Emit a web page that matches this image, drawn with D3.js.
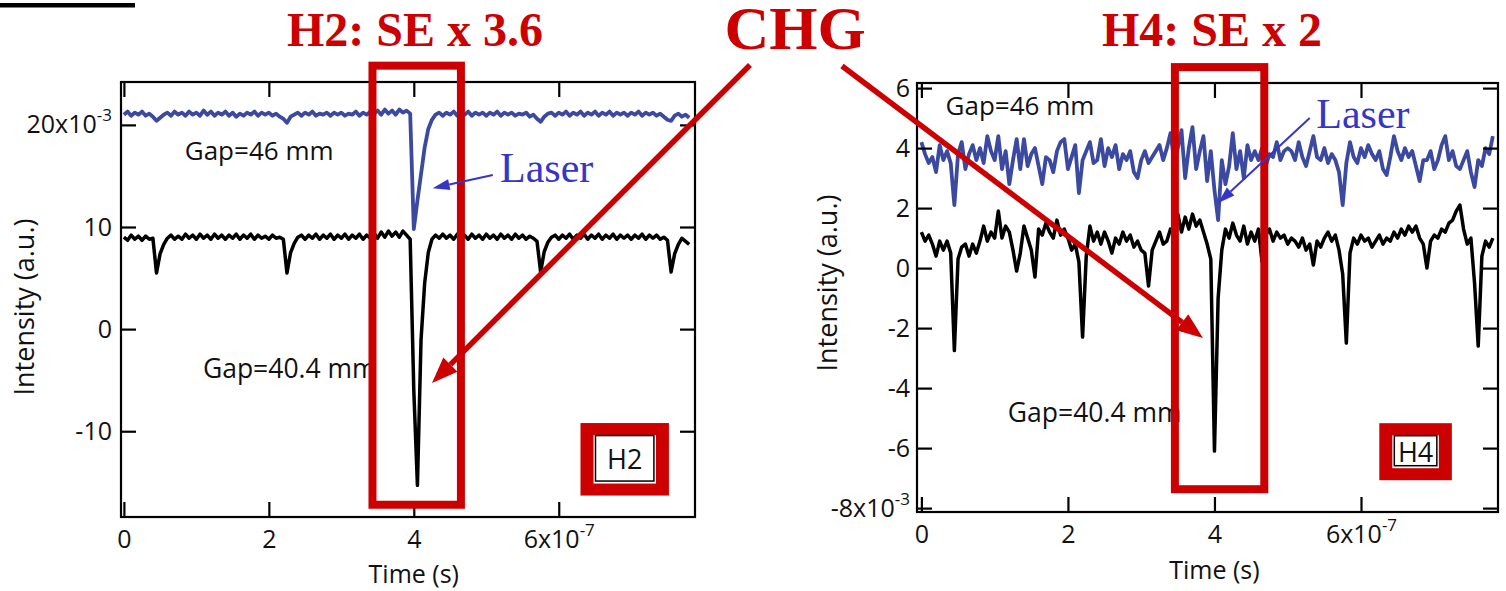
<!DOCTYPE html>
<html>
<head>
<meta charset="utf-8">
<script src="https://cdn.jsdelivr.net/npm/d3@7"></script>
<style>
  body { margin: 0; background: #fff; }
  svg text { font-family: "Open Sans", "Noto Sans", sans-serif; }
  .serif { font-family: "Liberation Serif", "Times New Roman", serif !important; }
</style>
</head>
<body>
<svg id="fig" width="1506" height="591"></svg>
<script>
// time sampling of every trace, in units of 1e-7 s
const timeStep = 0.05;

// H2 panel, intensity in units of 1e-3
const h2Laser = [
  21.0, 21.3, 20.9, 21.2, 21.0, 21.3, 20.9, 21.1, 20.8, 20.4,
  20.7, 21.0, 21.2, 20.9, 21.3, 21.0, 21.2, 20.9, 21.3, 21.0,
  21.2, 20.9, 21.4, 21.0, 21.3, 20.9, 21.2, 21.0, 21.3, 20.9,
  21.2, 20.8, 21.1, 20.9, 21.2, 21.0, 21.3, 20.9, 21.2, 21.0,
  21.2, 20.9, 21.1, 20.8, 20.6, 20.2, 20.8, 21.0, 21.2, 20.9,
  21.2, 21.0, 21.3, 20.9, 21.1, 21.0, 21.2, 20.9, 21.2, 21.0,
  21.2, 20.9, 21.1, 21.0, 21.3, 20.9, 21.2, 21.0, 21.3, 21.1,
  21.4, 21.0, 21.5, 21.1, 21.4, 21.0, 21.5, 21.2, 21.4, 21.1,
  9.8, 12.6, 15.2, 17.8, 19.6, 20.5, 21.0, 21.2, 20.9, 21.2,
  21.0, 21.3, 20.9, 21.2, 21.0, 21.3, 20.9, 21.2, 21.0, 21.2,
  20.9, 21.2, 21.0, 21.3, 20.9, 21.2, 21.0, 21.2, 20.9, 21.1,
  21.0, 21.2, 20.8, 21.0, 20.6, 20.3, 20.8, 21.1, 21.2, 20.9,
  21.2, 21.0, 21.3, 20.9, 21.2, 21.0, 21.3, 20.9, 21.2, 21.0,
  21.3, 20.9, 21.2, 21.0, 21.3, 20.9, 21.2, 21.0, 21.2, 20.9,
  21.2, 21.0, 21.3, 20.9, 21.2, 21.0, 21.2, 20.9, 21.1, 20.8,
  20.5, 20.4, 20.9, 21.1, 20.8, 21.0, 20.7
];
const h2Chg = [
  9.0, 8.7, 9.2, 8.8, 9.1, 8.7, 9.1, 8.8, 8.9, 5.5,
  7.4, 8.3, 8.9, 9.2, 8.8, 9.1, 8.8, 9.3, 8.9, 9.2,
  8.8, 9.3, 8.9, 9.2, 8.8, 9.3, 8.9, 9.2, 8.8, 9.2,
  8.9, 9.3, 8.8, 9.2, 8.9, 9.3, 8.8, 9.2, 8.9, 9.1,
  8.8, 9.2, 8.9, 9.0, 8.8, 5.5, 7.5, 8.4, 9.0, 9.2,
  8.8, 9.2, 8.9, 9.3, 8.8, 9.2, 8.9, 9.3, 8.8, 9.2,
  8.9, 9.3, 8.8, 9.2, 8.9, 9.3, 8.8, 9.2, 8.9, 9.4,
  8.9, 9.5, 9.0, 9.6, 9.1, 9.5, 9.0, 9.6, 9.2, 8.8,
  -6.0, -15.3, -1.0, 4.5, 7.5, 8.8, 9.2, 8.9, 9.3, 8.9,
  9.2, 8.8, 9.3, 8.9, 9.2, 8.8, 9.3, 8.9, 9.2, 8.8,
  9.3, 8.9, 9.2, 8.8, 9.3, 8.9, 9.2, 8.8, 9.3, 8.9,
  9.2, 8.8, 9.1, 8.9, 8.6, 5.6, 7.6, 8.5, 9.0, 9.2,
  8.8, 9.2, 8.9, 9.3, 8.8, 9.2, 8.9, 9.3, 8.8, 9.2,
  8.9, 9.3, 8.8, 9.2, 8.9, 9.3, 8.8, 9.2, 8.9, 9.2,
  8.8, 9.2, 8.9, 9.3, 8.8, 9.2, 8.9, 9.2, 8.8, 9.0,
  8.7, 5.6, 7.4, 8.3, 8.9, 8.6, 8.3
];

// H4 panel, intensity in units of 1e-3
const h4Laser = [
  4.2, 3.8, 3.5, 3.7, 3.2, 4.1, 3.6, 3.9, 3.5, 2.1,
  3.8, 4.2, 3.3, 3.8, 4.1, 3.6, 4.0, 3.5, 4.4, 3.9,
  3.6, 4.4, 3.3, 3.9, 2.8, 3.6, 4.3, 3.3, 4.3, 3.4,
  3.8, 4.0, 3.4, 2.8, 3.7, 3.6, 3.2, 3.9, 4.2, 4.3,
  3.3, 3.7, 4.1, 2.5, 3.6, 3.9, 4.2, 3.5, 3.6, 4.3,
  3.4, 4.0, 3.7, 4.1, 3.3, 3.8, 3.6, 3.9, 3.2, 3.0,
  3.6, 3.9, 3.5, 3.7, 3.9, 4.1, 3.6, 4.0, 4.5, 3.6,
  4.0, 4.6, 3.0, 4.0, 4.7, 3.3, 3.9, 4.4, 2.9, 3.9,
  2.6, 1.6, 3.6, 2.8, 3.4, 4.5, 3.3, 3.9, 3.0, 4.1,
  3.6, 3.9, 3.6, 4.0, 3.4, 3.8, 3.7, 4.2, 3.6, 3.9,
  4.0, 3.9, 3.6, 4.2, 3.7, 3.4, 3.9, 4.4, 3.7, 3.6,
  4.0, 3.5, 3.8, 3.6, 3.2, 2.1, 3.5, 4.2, 3.7, 3.5,
  4.0, 3.7, 4.1, 3.8, 3.6, 3.9, 3.3, 3.1, 3.7, 4.4,
  3.9, 3.6, 4.0, 3.7, 3.9, 3.4, 2.9, 3.6, 3.6, 3.9,
  3.3, 3.6, 4.1, 4.4, 3.6, 3.9, 3.4, 3.3, 3.6, 3.9,
  3.2, 2.7, 3.6, 3.4, 4.0, 3.8, 4.4
];
const h4Chg = [
  1.2, 0.9, 1.1, 0.8, 0.4, 0.9, 0.6, 0.9, 0.5, -2.75,
  0.3, 0.7, 0.8, 0.4, 0.8, 0.5, 0.9, 1.4, 0.9, 1.2,
  1.0, 1.9, 1.0, 1.4, 1.2, 0.6, -0.1, 0.5, 1.4, 1.0,
  0.6, -0.3, 1.3, 1.1, 1.5, 1.2, 1.0, 1.6, 1.1, 1.3,
  1.0, 0.6, 0.8, 0.2, -2.3, 0.4, 1.4, 0.9, 1.2, 0.8,
  1.2, 0.9, 0.5, 1.0, 0.8, 1.2, 0.9, 1.1, 0.7, 0.9,
  0.6, 0.5, -0.6, 0.6, 0.9, 1.2, 0.8, 0.9, 1.3, 1.1,
  1.8, 1.2, 1.7, 1.3, 1.8, 1.4, 1.6, 1.2, 0.8, 0.3,
  -6.1, -1.0, 0.6, 1.3, 1.0, 1.5, 1.1, 0.9, 1.4, 0.8,
  1.2, 0.9, 1.3, 0.2, 1.1, 1.3, 0.9, 1.2, 1.0, 1.1,
  0.8, 1.0, 0.9, 0.7, 1.0, 0.6, 0.8, 0.1, 0.9, 0.7,
  1.0, 1.2, 0.9, 1.1, 0.6, -0.2, -2.5, 0.5, 1.0, 0.8,
  1.1, 0.9, 1.0, 0.7, 0.9, 1.1, 0.8, 1.0, 0.9, 1.2,
  1.0, 1.3, 1.1, 1.4, 1.2, 1.4, 1.0, 0.8, 0.0, 0.9,
  1.1, 1.0, 1.3, 1.2, 1.5, 1.6, 1.9, 2.1, 1.3, 0.8,
  1.0, -0.5, -2.6, 0.4, 0.9, 0.7, 1.0
];

const xTicks = [0, 2, 4, 6];
const xTickLabels = ['0', '2', '4', '6x10^-7'];
const h2YTicks = [-10, 0, 10, 20];
const h2YTickLabels = ['-10', '0', '10', '20x10^-3'];
const h4YTicks = [-8, -6, -4, -2, 0, 2, 4, 6];
const h4YTickLabels = ['-8x10^-3', '-6', '-4', '-2', '0', '2', '4', '6'];

const RED = '#cc0000';
const TRACE_BLUE = '#3b4aa0';
const LASER_BLUE = '#3535c8';

const svg = d3.select('#fig');

function setLabel(sel, label) {
  const parts = label.split('^');
  sel.text(parts[0]);
  if (parts[1]) sel.append('tspan').attr('font-size', 17).attr('dy', -12).text(parts[1]);
}

function arrow(g, x1, y1, x2, y2, color, w, hl, hw) {
  const a = Math.atan2(y2 - y1, x2 - x1);
  const bx = x2 - hl * Math.cos(a), by = y2 - hl * Math.sin(a);
  g.append('line')
    .attr('x1', x1).attr('y1', y1).attr('x2', bx).attr('y2', by)
    .attr('stroke', color).attr('stroke-width', w);
  const px = -Math.sin(a) * hw / 2, py = Math.cos(a) * hw / 2;
  g.append('path')
    .attr('d', `M${x2},${y2}L${bx + px},${by + py}L${bx - px},${by - py}Z`)
    .attr('fill', color);
}

function drawPanel(cfg) {
  const x = d3.scaleLinear().domain(cfg.xDomain).range([cfg.left, cfg.right]);
  const y = d3.scaleLinear().domain(cfg.yDomain).range([cfg.bottom, cfg.top]);
  const g = svg.append('g');

  const line = d3.line()
    .x((d, i) => x(i * timeStep))
    .y(d => y(d));

  g.append('path').datum(cfg.laser)
    .attr('d', line).attr('fill', 'none')
    .attr('stroke', TRACE_BLUE).attr('stroke-width', 3.8).attr('stroke-linejoin', 'round');
  g.append('path').datum(cfg.chg)
    .attr('d', line).attr('fill', 'none')
    .attr('stroke', '#000').attr('stroke-width', 3.5).attr('stroke-linejoin', 'round');

  // frame
  g.append('rect')
    .attr('x', cfg.left).attr('y', cfg.top)
    .attr('width', cfg.right - cfg.left).attr('height', cfg.bottom - cfg.top)
    .attr('fill', 'none').attr('stroke', '#000').attr('stroke-width', 2.2);

  const bottomAxis = g.append('g')
    .attr('transform', `translate(0,${cfg.bottom})`)
    .call(d3.axisBottom(x).tickValues(xTicks).tickSize(-15).tickSizeOuter(0).tickPadding(13));
  bottomAxis.selectAll('.tick text').each(function (d, i) { setLabel(d3.select(this), xTickLabels[i]); });

  g.append('g')
    .attr('transform', `translate(0,${cfg.top})`)
    .call(d3.axisTop(x).tickValues(xTicks).tickSize(-15).tickSizeOuter(0).tickFormat(''));

  const leftAxis = g.append('g')
    .attr('transform', `translate(${cfg.left},0)`)
    .call(d3.axisLeft(y).tickValues(cfg.yTicks).tickSize(-15).tickSizeOuter(0).tickPadding(cfg.yPad));
  leftAxis.selectAll('.tick text').each(function (d, i) { setLabel(d3.select(this), cfg.yTickLabels[i]); });

  g.append('g')
    .attr('transform', `translate(${cfg.right},0)`)
    .call(d3.axisRight(y).tickValues(cfg.yTicks).tickSize(-15).tickSizeOuter(0).tickFormat(''));

  g.selectAll('.domain').remove();
  g.selectAll('.tick line').attr('stroke', '#000').attr('stroke-width', 2.2);
  g.selectAll('.tick text')
    .attr('font-family', '"Open Sans", sans-serif')
    .attr('font-size', 25).attr('fill', '#111');

  // axis titles
  g.append('text')
    .attr('transform', `translate(${cfg.yTitleX},${cfg.yTitleY}) rotate(-90)`)
    .attr('text-anchor', 'middle').attr('font-size', 27).attr('fill', '#111')
    .text('Intensity (a.u.)');
  g.append('text')
    .attr('x', x(4)).attr('y', cfg.xTitleY)
    .attr('text-anchor', 'middle').attr('font-size', 25).attr('fill', '#111')
    .text('Time (s)');

  // gap labels
  g.append('text').attr('x', x(cfg.gapTop[0])).attr('y', y(cfg.gapTop[1]))
    .attr('font-size', 26).attr('fill', '#111').text('Gap=46 mm');
  g.append('text').attr('x', x(cfg.gapBottom[0])).attr('y', y(cfg.gapBottom[1]))
    .attr('font-size', 26.5).attr('fill', '#111').text('Gap=40.4 mm');

  // red highlight around the laser seeded pulse
  const b = cfg.box;
  g.append('rect')
    .attr('x', x(b[0])).attr('y', y(b[2]))
    .attr('width', x(b[1]) - x(b[0])).attr('height', y(b[3]) - y(b[2]))
    .attr('fill', 'none').attr('stroke', RED).attr('stroke-width', 8);

  // laser label + arrow
  arrow(g, x(cfg.laserArrow[0]), y(cfg.laserArrow[1]), x(cfg.laserArrow[2]), y(cfg.laserArrow[3]),
    LASER_BLUE, 2, 17, 11);
  g.append('text').attr('class', 'serif')
    .attr('x', x(cfg.laserText[0])).attr('y', y(cfg.laserText[1]))
    .attr('font-size', 42).attr('fill', LASER_BLUE).text('Laser');

  // harmonic tag
  const t = cfg.tag;
  const tx0 = x(t[0]), tx1 = x(t[1]), ty0 = y(t[2]), ty1 = y(t[3]);
  g.append('rect').attr('x', tx0).attr('y', ty0).attr('width', tx1 - tx0).attr('height', ty1 - ty0).attr('fill', RED);
  g.append('rect').attr('x', tx0 + 13).attr('y', ty0 + 12).attr('width', tx1 - tx0 - 26).attr('height', ty1 - ty0 - 24).attr('fill', '#fff');
  g.append('rect').attr('x', tx0 + 15).attr('y', ty0 + 12.5).attr('width', tx1 - tx0 - 30).attr('height', ty1 - ty0 - 27)
    .attr('fill', 'none').attr('stroke', '#000').attr('stroke-width', 1.5);
  g.append('text').attr('x', (tx0 + tx1) / 2).attr('y', (ty0 + ty1) / 2 + 10)
    .attr('text-anchor', 'middle').attr('font-size', 27).attr('fill', '#111').text(cfg.name);
}

drawPanel({
  name: 'H2',
  left: 121, right: 695, top: 82, bottom: 517,
  xDomain: [-0.04, 7.88], yDomain: [-18.4, 24.2],
  yTicks: h2YTicks, yTickLabels: h2YTickLabels, yPad: 9,
  laser: h2Laser, chg: h2Chg,
  yTitleX: 34, yTitleY: 307, xTitleY: 583,
  gapTop: [0.84, 16.6], gapBottom: [1.09, -4.8],
  box: [3.43, 4.65, 25.8, -17.2],
  laserArrow: [5.09, 15.1, 4.26, 13.8], laserText: [5.19, 14.4],
  tag: [6.30, 7.52, -9.2, -16.3]
});

drawPanel({
  name: 'H4',
  left: 917, right: 1498, top: 83, bottom: 512,
  xDomain: [-0.06, 7.87], yDomain: [-8.13, 6.17],
  yTicks: h4YTicks, yTickLabels: h4YTickLabels, yPad: 7,
  laser: h4Laser, chg: h4Chg,
  yTitleX: 837, yTitleY: 283, xTitleY: 579,
  gapTop: [0.33, 5.1], gapBottom: [1.18, -5.13],
  box: [3.46, 4.68, 6.7, -7.37],
  laserArrow: [5.30, 5.0, 4.05, 2.17], laserText: [5.39, 4.67],
  tag: [6.25, 7.24, -5.17, -7.07]
});

// page-level annotations
const page = svg.append('g');
page.append('rect').attr('x', 0).attr('y', 3).attr('width', 135).attr('height', 4.5).attr('fill', '#000');
page.append('text').attr('class', 'serif').attr('x', 415).attr('y', 46)
  .attr('text-anchor', 'middle').attr('font-weight', 'bold').attr('font-size', 48).attr('fill', RED)
  .text('H2: SE x 3.6');
page.append('text').attr('class', 'serif').attr('x', 1212).attr('y', 46)
  .attr('text-anchor', 'middle').attr('font-weight', 'bold').attr('font-size', 48).attr('fill', RED)
  .text('H4: SE x 2');
page.append('text').attr('class', 'serif').attr('x', 795).attr('y', 49)
  .attr('text-anchor', 'middle').attr('font-weight', 'bold').attr('font-size', 62).attr('fill', RED)
  .text('CHG');
arrow(page, 750, 65, 432, 383, RED, 5.5, 26, 20);
arrow(page, 842, 66, 1203, 338, RED, 5.5, 26, 20);
</script>
</body>
</html>
